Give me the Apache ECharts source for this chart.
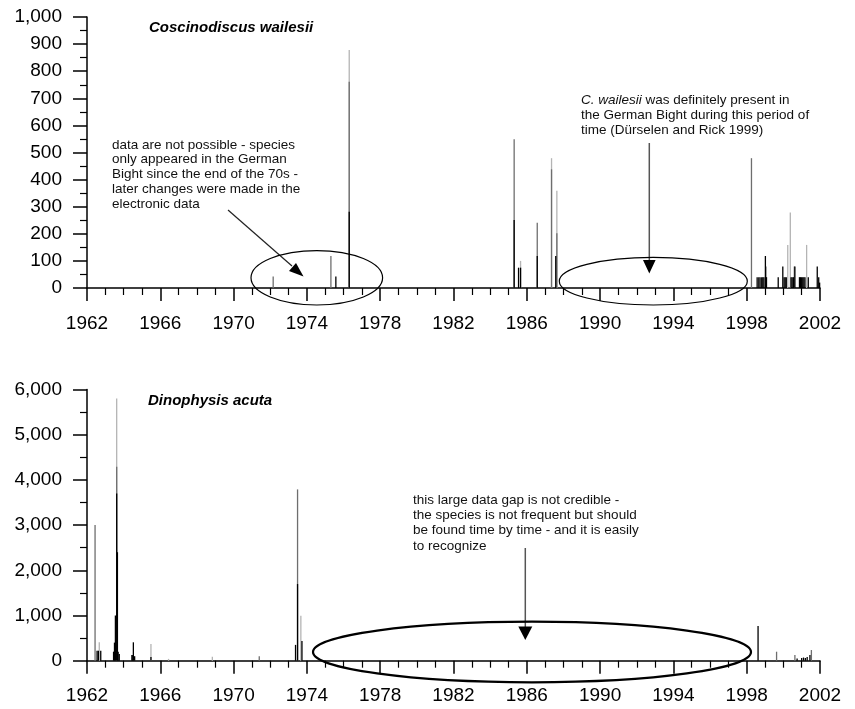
<!DOCTYPE html>
<html>
<head>
<meta charset="utf-8">
<script src="https://cdn.jsdelivr.net/npm/echarts@6/dist/echarts.min.js"></script>
<style>html,body{margin:0;padding:0;background:#fff}#c{width:855px;height:709px}</style>
</head>
<body>
<div id="c"></div>
<script>
// ---- data (decimal year, abundance) ----
const xMin = 1962, xMax = 2002, xInterval = 4;
const topYMax = 1000, topYInterval = 100;
const botYMax = 6000, botYInterval = 1000;
const topTitle = 'Coscinodiscus wailesii';
const botTitle = 'Dinophysis acuta';

const coscinoLight = [[1976.31,878],[1985.66,100],[1987.35,479],[1987.64,359],[2000.24,159],[2000.38,279],[2001.27,159]];
const coscinoMid = [[1972.16,42],[1975.31,118],[1976.31,761],[1985.31,549],[1986.57,241],[1987.35,438],[1987.64,202],[1998.26,479],[1999.05,79],[2000.6,79]];
const coscinoDark = [[1975.58,42],[1976.31,281],[1985.31,251],[1985.55,75],[1985.66,75],[1986.57,118],[1987.58,118],
  [1998.57,40],[1998.66,40],[1998.73,40],[1998.82,40],[1998.88,40],[1998.94,40],[1999.02,118],[1999.08,40],
  [1999.72,40],[1999.97,79],[2000.04,40],[2000.1,40],[2000.16,40],[2000.42,40],[2000.48,40],[2000.55,40],[2000.63,79],
  [2000.88,40],[2000.94,40],[2001.0,40],[2001.06,40],[2001.12,40],[2001.18,40],[2001.36,40],[2001.85,79],[2001.93,40],[2001.98,20]];

const dinoLight = [[1962.67,407],[1963.62,5800],[1965.49,370],[1966.45,40],[1968.84,90],[1973.67,995]];
const dinoMid = [[1962.44,3000],[1963.62,4290],[1971.4,100],[1973.49,3790],[1999.63,199],[2000.63,126],[2001.53,236]];
const dinoDark = [[1962.55,221],[1962.62,221],[1962.75,221],[1963.45,200],[1963.5,400],[1963.55,1000],[1963.62,3700],[1963.66,2400],
  [1963.7,200],[1963.76,150],[1964.45,126],[1964.5,126],[1964.53,407],[1964.6,100],[1965.49,80],
  [1973.38,350],[1973.49,1696],[1973.73,435],[1998.62,767],[2000.75,50],[2001.0,60],[2001.1,70],[2001.2,60],[2001.3,80],[2001.45,126]];

const annTopLeft = 'data are not possible - species\nonly appeared in the German\nBight since the end of the 70s -\nlater changes were made in the\nelectronic data';
const annTopRight = '{i|C. wailesii} was definitely present in\nthe German Bight during this period of\ntime (Dürselen and Rick 1999)';
const annBottom = 'this large data gap is not credible -\nthe species is not frequent but should\nbe found time by time - and it is easily\nto recognize';

// ---- styles ----
const FONT = 'Arial, "Liberation Sans", sans-serif';
const AXFONT = 'Arial, "Liberation Sans", sans-serif';
const C_LIGHT = '#b4b4b4', C_MID = '#6e6e6e', C_DARK = '#000000';

function xAxisCfg(gi){
  return {
    type:'value', gridIndex:gi, min:xMin, max:xMax, interval:xInterval,
    axisLine:{show:true, onZero:false, lineStyle:{color:'#000', width:1.5}},
    axisTick:{show:true, inside:false, length:13, lineStyle:{color:'#000', width:1.5}},
    minorTick:{show:true, splitNumber:4, length:7, lineStyle:{color:'#000', width:1.2}},
    splitLine:{show:false},
    axisLabel:{margin:26, fontFamily:AXFONT, fontSize:19, color:'#000', formatter:v=>String(v)}
  };
}
function yAxisCfg(gi, max, interval){
  return {
    type:'value', gridIndex:gi, min:0, max:max, interval:interval,
    axisLine:{show:true, lineStyle:{color:'#000', width:1.5}},
    axisTick:{show:true, inside:false, length:14, lineStyle:{color:'#000', width:1.5}},
    minorTick:{show:true, splitNumber:2, length:7, lineStyle:{color:'#000', width:1.2}},
    splitLine:{show:false},
    axisLabel:{margin:25, fontFamily:AXFONT, fontSize:19, color:'#000', formatter:v=>v.toLocaleString('en-US')}
  };
}
function spikes(data, color, gi){
  return {type:'bar', xAxisIndex:gi, yAxisIndex:gi, data:data, barWidth:1.3, barGap:'-100%',
    itemStyle:{color:color}, silent:true, animation:false};
}
function txt(x, y, text, extra){
  return {type:'text', left:x, top:y, silent:true, z:100,
    style:Object.assign({text:text, fill:'#111', font:'13.5px '+FONT, lineHeight:15}, extra||{})};
}
function arrowHead(pts){
  return {type:'polygon', shape:{points:pts}, style:{fill:'#000'}, silent:true, z:100};
}
function seg(x1,y1,x2,y2,color,w){
  return {type:'line', shape:{x1,y1,x2,y2}, style:{stroke:color, lineWidth:w}, silent:true, z:100};
}
function ell(cx,cy,rx,ry,w){
  return {type:'ellipse', shape:{cx,cy,rx,ry}, style:{stroke:'#000', fill:null, lineWidth:w}, silent:true, z:100};
}

const chart = echarts.init(document.getElementById('c'), null, {renderer:'canvas'});
chart.setOption({
  animation:false,
  backgroundColor:'#fff',
  grid:[
    {left:87, right:35, top:17, height:271},
    {left:87, right:35, top:389.5, height:271.2}
  ],
  xAxis:[xAxisCfg(0), xAxisCfg(1)],
  yAxis:[yAxisCfg(0, topYMax, topYInterval), yAxisCfg(1, botYMax, botYInterval)],
  series:[
    spikes(coscinoLight, C_LIGHT, 0), spikes(coscinoMid, C_MID, 0), spikes(coscinoDark, C_DARK, 0),
    spikes(dinoLight, C_LIGHT, 1), spikes(dinoMid, C_MID, 1), spikes(dinoDark, C_DARK, 1)
  ],
  graphic:[
    {type:'text', left:149, top:20, silent:true, style:{text:topTitle, fill:'#000', font:'italic bold 15px '+FONT}},
    {type:'text', left:148, top:393, silent:true, style:{text:botTitle, fill:'#000', font:'italic bold 15px '+FONT}},
    txt(112, 137.5, annTopLeft, {lineHeight:14.8}),
    txt(581, 92.5, annTopRight, {lineHeight:15.3, rich:{i:{font:'italic 13.5px '+FONT, fill:'#111', lineHeight:15.3}}}),
    txt(413, 492.5, annBottom, {lineHeight:15.3}),
    // arrows
    seg(228,210,292,266,'#222',1.2),
    arrowHead([[289,271],[296,263],[303.5,276.5]]),
    seg(649.3,143,649.3,262,'#555',1.5),
    arrowHead([[643,260],[655.6,260],[649.3,273.5]]),
    seg(525.3,548,525.3,628,'#555',1.5),
    arrowHead([[518.3,626.5],[532.3,626.5],[525.3,640]]),
    // ellipses
    ell(316.8,277.8,65.8,27.2,1.2),
    ell(653.3,281.2,94,23.8,1.2),
    ell(532,652,219,30.3,2.2)
  ]
});
</script>
</body>
</html>
